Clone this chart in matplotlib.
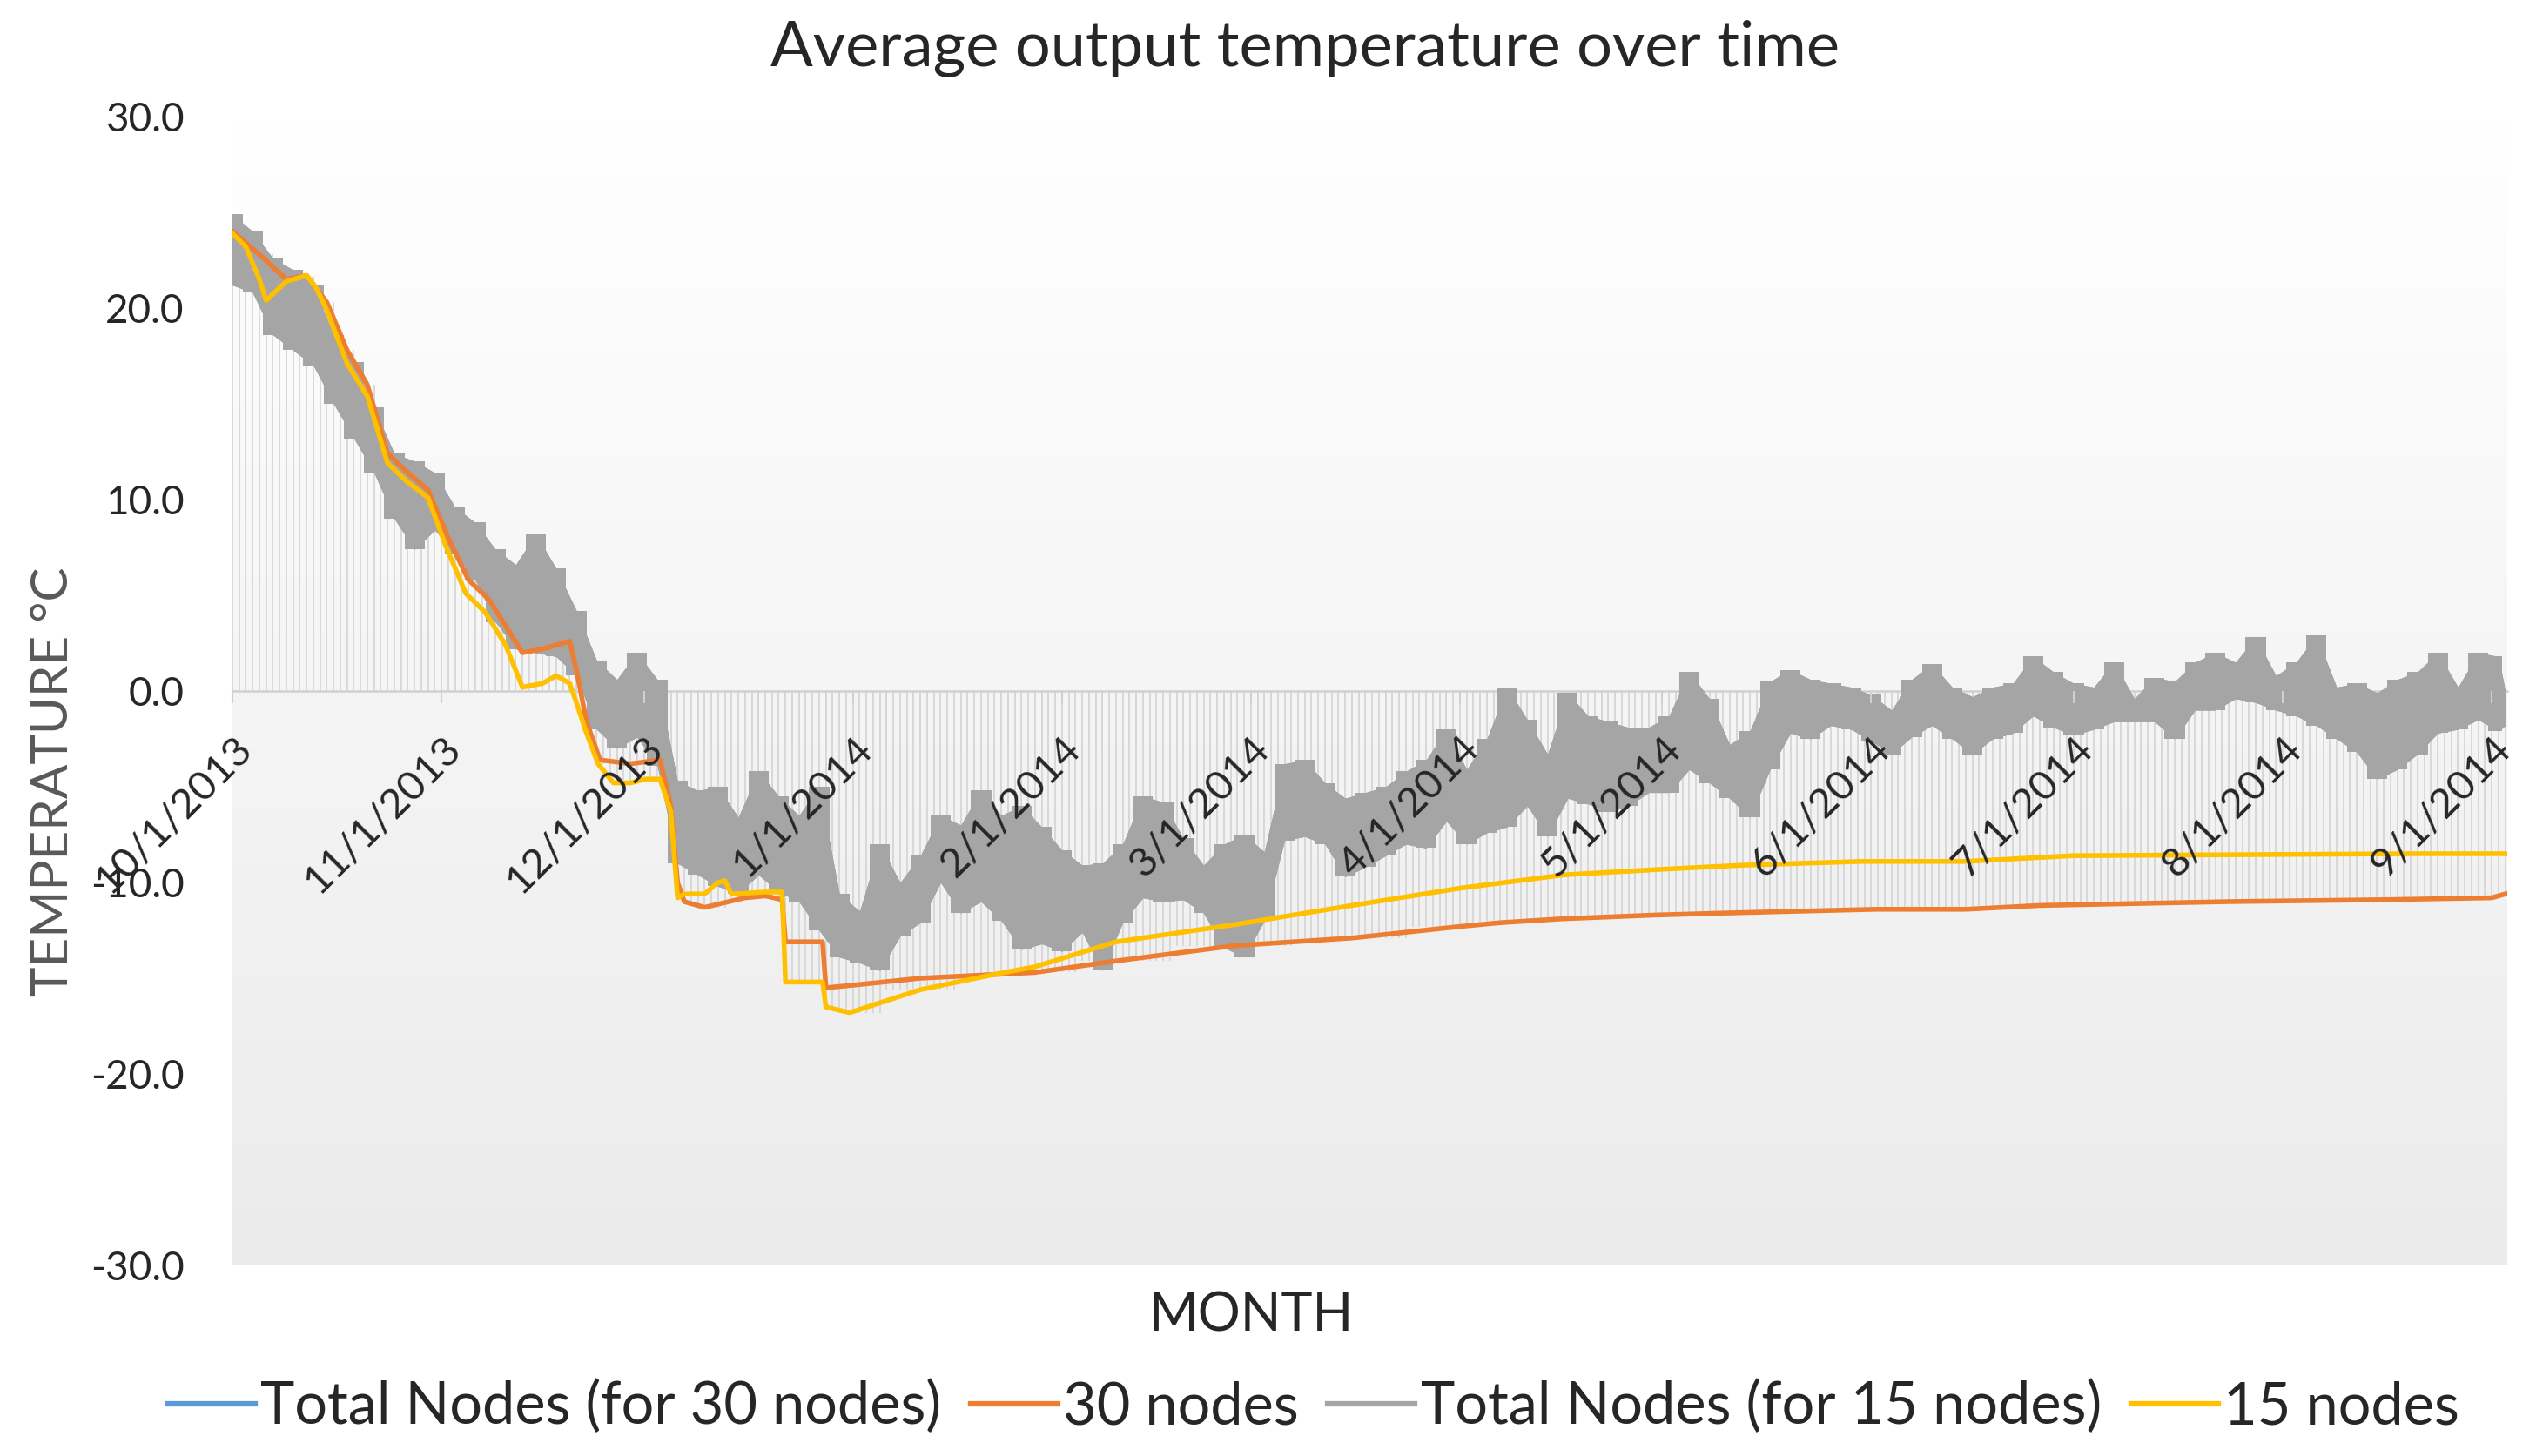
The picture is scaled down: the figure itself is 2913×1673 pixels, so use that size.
import numpy as np
import matplotlib
matplotlib.use('Agg')
import matplotlib.pyplot as plt
from matplotlib.lines import Line2D
from matplotlib.colors import LinearSegmentedColormap

# ---- data (x = days since 10/1/2013) ----
band_days = [0, 3, 6, 9, 12, 15, 18, 21, 24, 27, 30, 33, 36, 39, 42, 45, 48, 51, 54, 57,
             60, 63, 66, 69, 72, 75, 78, 81, 84, 87, 90, 93, 96, 99, 102, 105, 108, 111, 114, 117,
             120, 123, 126, 129, 132, 135, 138, 141, 144, 147, 150, 153, 156, 159, 162, 165, 168, 171, 174, 177,
             180, 183, 186, 189, 192, 195, 198, 201, 204, 207, 210, 213, 216, 219, 222, 225, 228, 231, 234, 237,
             240, 243, 246, 249, 252, 255, 258, 261, 264, 267, 270, 273, 276, 279, 282, 285, 288, 291, 294, 297,
             300, 303, 306, 309, 312, 315, 318, 321, 324, 327, 330, 333, 336, 337]
# upper / lower edge of the hourly "Total Nodes" series
total_hi = [24.9, 24.0, 22.6, 22.0, 21.2, 18.6, 17.2, 14.8, 12.4, 12.0, 11.4, 9.6, 8.8, 7.4, 6.6, 8.2, 6.4, 4.2, 1.6, 0.6,
            2.0, 0.6, -4.7, -5.2, -5.0, -6.6, -4.2, -5.5, -6.5, -5.0, -10.6, -11.5, -8.0, -10.0, -8.6, -6.5, -7.0, -5.2, -6.5, -6.0,
            -7.1, -8.3, -9.1, -9.0, -8.0, -5.5, -5.8, -7.7, -9.1, -8.0, -7.5, -8.4, -3.8, -3.6, -4.8, -5.6, -5.3, -5.0, -4.2, -3.6,
            -2.0, -4.1, -2.5, 0.2, -1.5, -3.3, -0.1, -1.3, -1.6, -1.9, -1.9, -1.3, 1.0, -0.4, -2.8, -2.1, 0.5, 1.1, 0.6, 0.4,
            0.2, -0.2, -1.0, 0.6, 1.4, 0.2, -0.3, 0.2, 0.4, 1.8, 1.0, 0.4, 0.2, 1.5, -0.4, 0.7, 0.5, 1.5, 2.0, 1.5,
            2.8, 0.8, 1.5, 2.9, 0.2, 0.4, -0.1, 0.6, 1.0, 2.0, 0.2, 2.0, 1.8, 0.0]
total_lo = [21.2, 20.8, 18.6, 17.8, 17.0, 15.0, 13.2, 11.4, 9.0, 7.4, 8.4, 7.2, 5.8, 3.6, 2.2, 2.0, 1.8, 0.8, -2.0, -3.0,
            -2.4, -3.9, -9.0, -9.6, -10.2, -10.6, -9.6, -10.5, -11.0, -12.5, -13.9, -14.2, -14.6, -12.8, -12.1, -10.0, -11.6, -11.0, -12.0, -13.5,
            -13.2, -13.6, -12.6, -14.6, -12.1, -10.8, -11.0, -10.9, -11.6, -13.4, -13.9, -12.0, -7.8, -7.6, -8.0, -9.7, -9.2, -8.6, -8.0, -8.2,
            -6.8, -8.0, -7.4, -7.1, -6.0, -7.6, -5.6, -5.9, -6.3, -6.0, -5.3, -5.3, -4.1, -4.8, -5.6, -6.6, -4.1, -2.2, -2.5, -1.8,
            -2.0, -2.6, -3.3, -2.4, -1.8, -2.5, -3.3, -2.5, -2.2, -1.3, -1.9, -2.3, -2.0, -1.6, -1.6, -1.6, -2.5, -1.0, -1.0, -0.4,
            -0.6, -1.0, -1.3, -1.8, -2.5, -3.2, -4.6, -4.1, -3.3, -2.2, -2.0, -1.5, -2.1, -1.8]

n15_days = [0, 2, 4, 5, 8, 11, 12.5, 14, 17, 20, 23, 26, 29, 31.6, 34.6, 37.5, 40.5, 43, 46, 48,
            50, 51, 52.4, 54.2, 56.5, 59, 61.3, 63.4, 65, 66, 67, 70, 72, 73, 74, 79, 81.5, 82, 87.5, 88,
            91.5, 102, 113, 119, 131, 148.6, 166, 182, 197.5, 212.5, 223.8, 241.5, 257, 273, 322.7, 337]
n15_temp = [23.9, 23.2, 21.5, 20.4, 21.4, 21.7, 21.0, 19.9, 17.1, 15.4, 11.9, 10.9, 10.1, 7.6, 5.1, 4.1, 2.4, 0.2, 0.4, 0.8,
            0.4, -0.6, -2.1, -3.8, -4.8, -4.8, -4.6, -4.6, -6.3, -10.8, -10.6, -10.6, -10.0, -9.9, -10.6, -10.5, -10.5, -15.2, -15.2, -16.5,
            -16.8, -15.6, -14.8, -14.4, -13.1, -12.2, -11.2, -10.3, -9.6, -9.3, -9.1, -8.9, -8.9, -8.6, -8.5, -8.5]

n30_days = [0, 4, 8, 11, 14, 17, 20, 23, 26, 29, 32, 35, 38, 40.5, 43, 46, 48, 50, 51, 52.5,
            54.5, 59, 63.4, 65, 66, 67, 70, 76, 79, 81.5, 82, 87.5, 88, 91, 102, 119, 131, 148.6, 166, 182,
            188, 197, 211, 221, 243.6, 257, 268, 296, 319, 335, 337]
n30_temp = [24.0, 22.8, 21.5, 21.7, 20.3, 17.8, 16.0, 12.4, 11.4, 10.5, 8.0, 5.8, 4.8, 3.4, 2.0, 2.2, 2.4, 2.6, 1.1, -1.6,
            -3.6, -3.8, -3.6, -6.0, -10.0, -11.0, -11.3, -10.8, -10.7, -10.9, -13.1, -13.1, -15.5, -15.4, -15.0, -14.7, -14.1, -13.3, -12.9, -12.3,
            -12.1, -11.9, -11.7, -11.6, -11.4, -11.4, -11.2, -11.0, -10.9, -10.8, -10.6]

series_names = ['Total Nodes (for 30 nodes)', '30 nodes', 'Total Nodes (for 15 nodes)', '15 nodes']
series_colors = ['#5B9BD5', '#ED7D31', '#A5A5A5', '#FFC000']

plt.rcParams['font.family'] = ['Lato', 'DejaVu Sans']
txt = '#262626'

fig = plt.figure(figsize=(29.13, 16.73), dpi=100)
ax = fig.add_axes([267 / 2913, 1 - 1454 / 1673, (2880 - 267) / 2913, (1454 - 134) / 1673])

# category axis crosses at zero (set before ticks, it resets them)
for s in ['top', 'right', 'left']:
    ax.spines[s].set_visible(False)
ax.spines['bottom'].set_position(('data', 0))
ax.spines['bottom'].set_color('#d0d0d0')
ax.spines['bottom'].set_linewidth(1.8)
ax.spines['bottom'].set_zorder(1.5)

x_end = 337.3
# plot area gradient, white on top
grad = np.linspace(0, 1, 256).reshape(-1, 1)
cmap = LinearSegmentedColormap.from_list('bg', ['#ffffff', '#ebebeb'])
ax.imshow(grad, extent=[0, x_end, -30, 30], origin='upper', aspect='auto', cmap=cmap, zorder=0)

bd = np.array(band_days, dtype=float)
hi = np.array(total_hi)
lo = np.array(total_lo)

# drop lines to the category axis (one per day)
days = np.arange(0, int(x_end) + 1)
near = lambda src, d: np.abs(np.array(src)[:, None] - d[None, :]).argmin(axis=0)
i_b = near(band_days, days)
i15 = near(n15_days, days)
i30 = near(n30_days, days)
top = np.maximum.reduce([np.zeros(len(days)), hi[i_b], np.array(n15_temp)[i15], np.array(n30_temp)[i30]])
bot = np.minimum.reduce([np.zeros(len(days)), lo[i_b], np.array(n15_temp)[i15], np.array(n30_temp)[i30]])
ax.vlines(days, bot, top, color='#d6d6d6', lw=1.3, zorder=1)

# hourly totals, drawn as their envelope (blocky + smooth union gives the jagged band)
for c, z in [(series_colors[0], 2), (series_colors[2], 3)]:
    ax.fill_between(bd, lo, hi, color=c, lw=0, zorder=z)
    ax.fill_between(bd, lo, hi, step='mid', color=c, lw=0, zorder=z)

ax.plot(n30_days, n30_temp, color=series_colors[1], lw=4.0, zorder=4)
ax.plot(n15_days, n15_temp, color=series_colors[3], lw=4.0, zorder=5)

ax.set_xlim(0, x_end)
ax.set_ylim(-30, 30)

# month ticks on the zero line
base = np.datetime64('2013-10-01')
month_starts = np.arange('2013-10', '2014-10', dtype='datetime64[M]').astype('datetime64[D]')
tick_days = (month_starts - base).astype(int)
tick_labels = ['%d/1/%d' % (m.astype(object).month, m.astype(object).year) for m in month_starts]
ax.set_xticks(tick_days)
ax.set_xticklabels(tick_labels, fontsize=34, color=txt, rotation=45, ha='right', va='top',
                   rotation_mode='anchor')
ax.tick_params(axis='x', length=10, width=1.5, color='#d0d0d0', pad=22)
ax.xaxis.set_zorder(10)

ax.set_yticks(np.arange(-30, 31, 10))
ax.set_yticklabels(['%.1f' % v for v in np.arange(-30, 31, 10)], fontsize=33, color=txt)
ax.tick_params(axis='y', length=0, pad=40)

fig.text(0.5145, 1 - 56 / 1673, 'Average output temperature over time', ha='center', va='center',
         fontsize=52, color=txt)
fig.text(62 / 2913, 1 - 898 / 1673, 'TEMPERATURE °C', rotation=90, ha='center', va='center',
         fontsize=42, color='#595959')
fig.text(1437 / 2913, 1 - 1512 / 1673, 'MONTH', ha='center', va='center', fontsize=44, color=txt)

handles = [Line2D([], [], color=c, lw=4.5) for c in series_colors]
fig.legend(handles, series_names, loc='center', bbox_to_anchor=(0.518, 1 - 1617 / 1673), ncol=4,
           frameon=False, fontsize=48, handlelength=1.5, handletextpad=0.1, columnspacing=0.5,
           labelcolor=txt)

fig.savefig('out.png', dpi=100)
